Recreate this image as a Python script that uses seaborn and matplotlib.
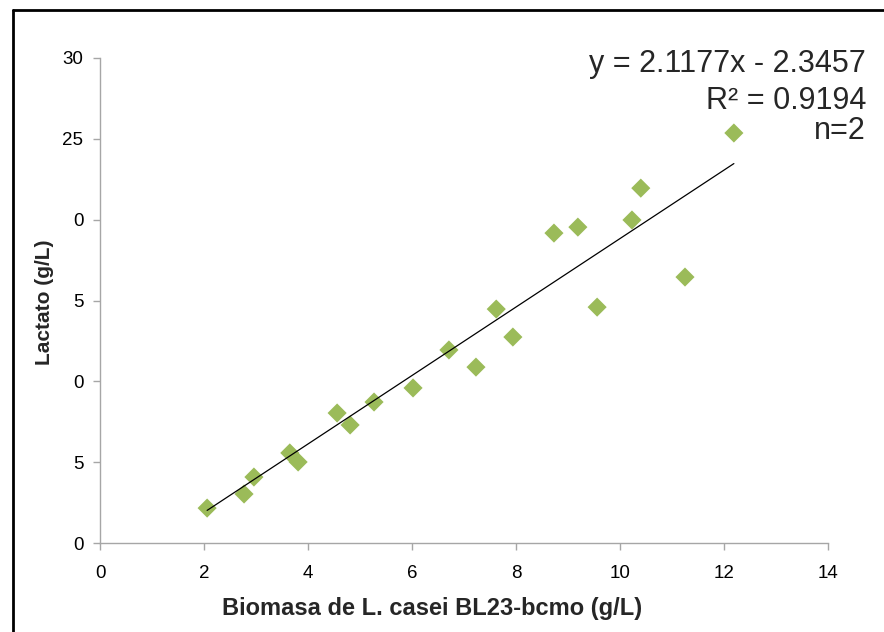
import matplotlib
matplotlib.use("Agg")
import matplotlib.pyplot as plt
from matplotlib.lines import Line2D
import seaborn as sns
import pandas as pd
import numpy as np

# Data
biomasa = [2.06, 2.77, 2.96, 3.65, 3.81, 4.56, 4.81, 5.27, 6.02, 6.71,
           7.23, 7.62, 7.94, 8.73, 9.19, 9.56, 10.23, 10.40, 11.25, 12.19]
lactato = [2.16, 3.03, 4.08, 5.57, 5.01, 8.04, 7.30, 8.72, 9.59, 11.94,
           10.88, 14.47, 12.74, 19.17, 19.54, 14.59, 19.98, 21.95, 16.45, 25.36]
slope, intercept = 2.1177, -2.3457
y_ticks = [0, 5, 10, 15, 20, 25, 30]
y_tick_labels = ["0", "5", "0", "5", "0", "25", "30"]
x_ticks = [0, 2, 4, 6, 8, 10, 12, 14]

df = pd.DataFrame({"x": biomasa, "y": lactato})
xs = np.array([min(biomasa), max(biomasa)])
trend = pd.DataFrame({"x": xs, "y": slope * xs + intercept})

sns.set_style("white")
plt.rcParams["font.family"] = ["Liberation Sans", "DejaVu Sans"]

fig = plt.figure(figsize=(8.84, 6.32), dpi=100)
ax = fig.add_axes([100/884, 1 - 543/632, (828-100)/884, (543-58)/632])

sns.lineplot(data=trend, x="x", y="y", ax=ax, color="black", linewidth=0.9, zorder=3)
sns.scatterplot(data=df, x="x", y="y", ax=ax, marker="D", s=95, color="#9BBB59",
                edgecolor="none", zorder=2)

ax.set_xlim(0, 14)
ax.set_ylim(0, 30)
ax.set_xticks(x_ticks)
ax.set_xticklabels([str(t) for t in x_ticks], fontsize=13.5)
ax.set_yticks(y_ticks)
ax.set_yticklabels(y_tick_labels, fontsize=13.5)

for s in ["top", "right"]:
    ax.spines[s].set_visible(False)
for s in ["left", "bottom"]:
    ax.spines[s].set_color("#A6A6A6")
    ax.spines[s].set_linewidth(1.0)
ax.tick_params(axis="both", which="both", direction="out", length=5, width=1.0,
               color="#A6A6A6", left=True, bottom=True, labelcolor="black")
ax.tick_params(axis="x", pad=11)
ax.tick_params(axis="y", pad=7)

ax.set_xlabel("Biomasa de L. casei BL23-bcmo (g/L)", fontsize=17, fontweight="bold")
ax.xaxis.label.set_va("center")
ax.xaxis.set_label_coords((432-100)/728, (543-609)/485)
ax.set_ylabel("Lactato (g/L)", fontsize=15, fontweight="bold")
ax.yaxis.label.set_va("center")
ax.yaxis.set_label_coords((44-100)/728, (543-302)/485)
ax.grid(False)

fig.text(866/884, 1 - 64/632, "y = 2.1177x - 2.3457", ha="right", va="center", fontsize=22)
fig.text(866/884, 1 - 101/632, "R² = 0.9194", ha="right", va="center", fontsize=22)
fig.text(866/884, 1 - 131/632, "n=2", ha="right", va="center", fontsize=22)

# outer frame (left and top edges visible)
fig.add_artist(Line2D([13/884, 13/884], [0, 1 - 10/632], color="black", linewidth=2,
                      transform=fig.transFigure))
fig.add_artist(Line2D([13/884, 1], [1 - 10/632, 1 - 10/632], color="black", linewidth=2,
                      transform=fig.transFigure))

fig.savefig("out.png", dpi=100)
